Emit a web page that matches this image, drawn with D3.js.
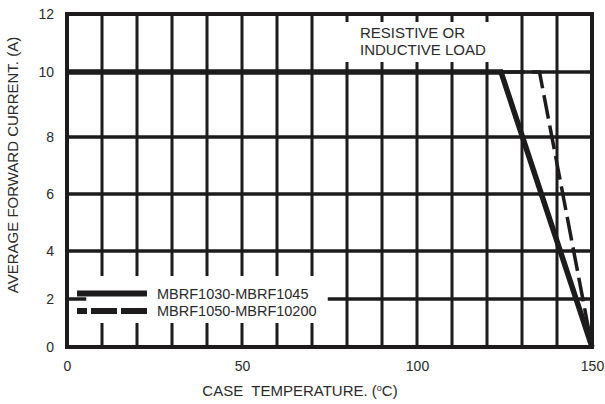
<!DOCTYPE html>
<html>
<head>
<meta charset="utf-8">
<script src="https://cdn.jsdelivr.net/npm/d3@7"></script>
<style>
  body { margin: 0; background: #fff; }
  text { font-family: "Liberation Sans", Arial, sans-serif; fill: #2a2a2a; }
</style>
</head>
<body>
<svg></svg>
<script>
// chart values
let tempTicks = [0, 50, 100, 150];
let currentTicks = [0, 2, 4, 6, 8, 10, 12];
let gridTemps = [10, 20, 30, 40, 50, 60, 70, 80, 90, 100, 110, 120, 130, 140];
let gridCurrents = [2, 4, 6, 8, 10];

let solidTemp = [0, 124, 150];
let solidCurrent = [10, 10, 0];
let dashTemp = [0, 135, 150];
let dashCurrent = [10, 10, 0];

let seriesNames = ["MBRF1030-MBRF1045", "MBRF1050-MBRF10200"];
let noteLines = ["RESISTIVE OR", "INDUCTIVE LOAD"];

let width = 605;
let height = 404;
let ink = "#1d1b1c";

// the printed grid is not evenly spaced vertically, so the y scale is piecewise
let yStops = [347, 299, 251, 194, 137, 72, 14];

let svg = d3.select("svg").attr("width", width).attr("height", height);

let xScale = d3.scaleLinear().domain([0, 150]).range([67, 592]);
let yScale = d3.scaleLinear().domain(currentTicks).range(yStops);

// grid
svg.append("g")
  .selectAll("line")
  .data(gridTemps)
  .enter()
  .append("line")
  .attr("x1", (d) => xScale(d))
  .attr("x2", (d) => xScale(d))
  .attr("y1", yScale(0))
  .attr("y2", yScale(12))
  .attr("stroke", ink)
  .attr("stroke-width", 3);

svg.append("g")
  .selectAll("line")
  .data(gridCurrents)
  .enter()
  .append("line")
  .attr("x1", xScale(0))
  .attr("x2", xScale(150))
  .attr("y1", (d) => yScale(d))
  .attr("y2", (d) => yScale(d))
  .attr("stroke", ink)
  .attr("stroke-width", 3.5);

// frame
svg.append("rect")
  .attr("x", xScale(0))
  .attr("y", yScale(12))
  .attr("width", xScale(150) - xScale(0))
  .attr("height", yScale(0) - yScale(12))
  .attr("fill", "none")
  .attr("stroke", ink)
  .attr("stroke-width", 4);

// white boxes behind the note and the legend
svg.append("rect")
  .attr("x", xScale(77)).attr("y", yScale(12) + 8)
  .attr("width", xScale(122) - xScale(77)).attr("height", 40)
  .attr("fill", "#fff");

svg.append("rect")
  .attr("x", xScale(5.5)).attr("y", 276)
  .attr("width", xScale(74.5) - xScale(5.5)).attr("height", 47)
  .attr("fill", "#fff");

// curves
let line = d3.line()
  .x((d) => xScale(d[0]))
  .y((d) => yScale(d[1]));

svg.append("path")
  .datum(d3.zip(dashTemp, dashCurrent))
  .attr("d", line)
  .attr("fill", "none")
  .attr("stroke", ink)
  .attr("stroke-width", 3.5)
  .attr("stroke-dasharray", "24,7");

svg.append("path")
  .datum(d3.zip(solidTemp, solidCurrent))
  .attr("d", line)
  .attr("fill", "none")
  .attr("stroke", ink)
  .attr("stroke-width", 5.5)
  .attr("stroke-linejoin", "miter");

// axes labels
let xAxis = d3.axisBottom(xScale).tickValues(tempTicks).tickSize(0).tickPadding(14);
let yAxis = d3.axisLeft(yScale).tickValues(currentTicks).tickSize(0).tickPadding(13);

let gx = svg.append("g")
  .attr("transform", "translate(0," + yScale(0) + ")")
  .call(xAxis);
gx.select(".domain").remove();
gx.selectAll("text").style("font-size", "14px").attr("fill", "#2a2a2a");

let gy = svg.append("g")
  .attr("transform", "translate(" + xScale(0) + ",0)")
  .call(yAxis);
gy.select(".domain").remove();
gy.selectAll("text").style("font-size", "14px").attr("fill", "#2a2a2a");

svg.append("text")
  .attr("x", 300)
  .attr("y", 396)
  .attr("text-anchor", "middle")
  .style("font-size", "15px")
  .html('CASE&#160; TEMPERATURE. (<tspan dy="-5" style="font-size:9px">o</tspan><tspan dy="5">C)</tspan>');

svg.append("text")
  .attr("transform", "translate(18,165) rotate(-90)")
  .attr("text-anchor", "middle")
  .style("font-size", "15px")
  .text("AVERAGE FORWARD CURRENT. (A)");

// note
svg.selectAll(".note")
  .data(noteLines)
  .enter()
  .append("text")
  .attr("class", "note")
  .attr("x", 360)
  .attr("y", (d, i) => 38 + i * 17)
  .style("font-size", "15px")
  .text((d) => d);

// legend
let legendY = [293.5, 311];
svg.append("line")
  .attr("x1", 77).attr("x2", 147)
  .attr("y1", legendY[0]).attr("y2", legendY[0])
  .attr("stroke", ink).attr("stroke-width", 6);
svg.append("line")
  .attr("x1", 147).attr("x2", 77)
  .attr("y1", legendY[1]).attr("y2", legendY[1])
  .attr("stroke", ink).attr("stroke-width", 6)
  .attr("stroke-dasharray", "26,4");

svg.selectAll(".legend")
  .data(seriesNames)
  .enter()
  .append("text")
  .attr("class", "legend")
  .attr("x", 157)
  .attr("y", (d, i) => legendY[i] + 5)
  .style("font-size", "14.5px")
  .text((d) => d);
</script>
</body>
</html>
